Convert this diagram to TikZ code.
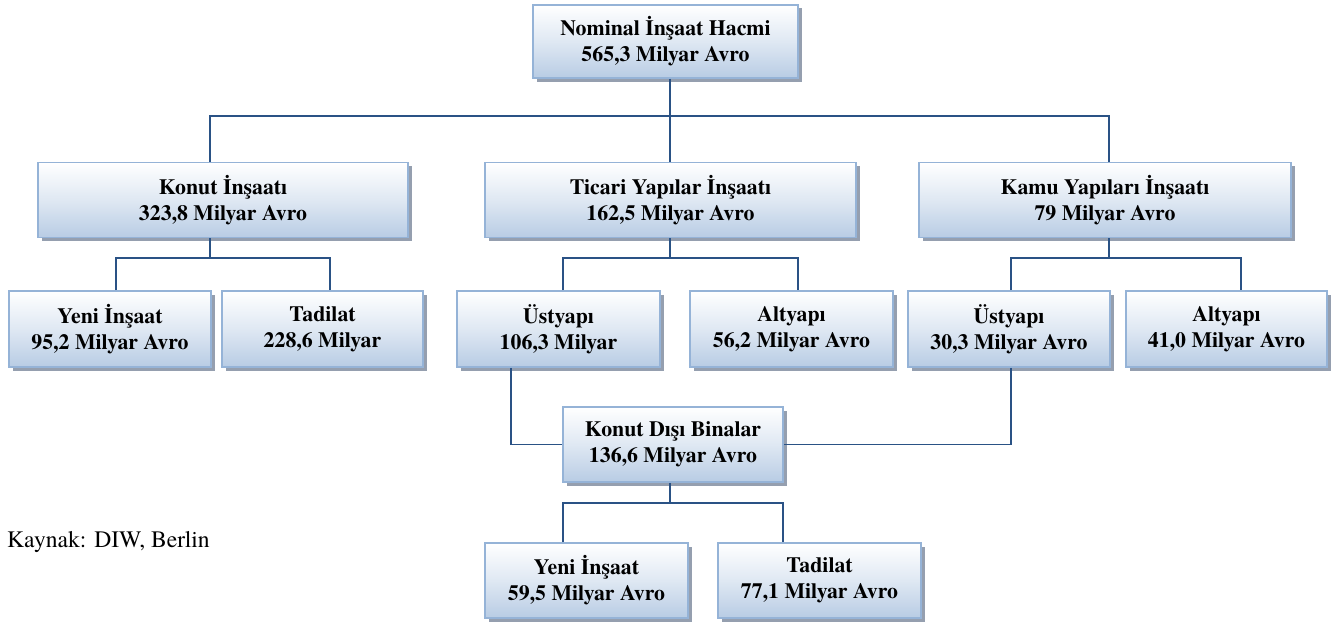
\documentclass[tikz,border=0pt]{standalone}
\usepackage{fontspec}
\setmainfont{TeX Gyre Termes}
\usetikzlibrary{shadows}
\definecolor{boxborder}{HTML}{95B3D7}
\definecolor{boxbottom}{HTML}{B8CCE4}
\definecolor{boxshadow}{HTML}{959FAF}
\definecolor{connblue}{HTML}{2A5285}
\tikzset{
  orgbox/.style={draw=boxborder, line width=1.6pt, top color=white, bottom color=boxbottom,
    middle color=boxbottom!45,
    drop shadow={shadow xshift=3.5pt, shadow yshift=-3.5pt, fill=boxshadow, opacity=1},
    align=center, inner sep=0pt, minimum height=75pt,
    font=\bfseries\fontsize{21.8}{26}\selectfont},
  conn/.style={draw=connblue, line width=1.9pt, line join=miter}
}
\begin{document}
\begin{tikzpicture}[x=1pt,y=-1pt]
\useasboundingbox (0,0) rectangle (1341,626);
\node[orgbox, minimum width=265pt, minimum height=73pt] (top) at (665.5,41.5) {Nominal İnşaat Hacmi\\565,3 Milyar Avro};
\node[orgbox, minimum width=370pt] (konut) at (223,200) {Konut İnşaatı\\323,8 Milyar Avro};
\node[orgbox, minimum width=371pt] (ticari) at (670.5,200) {Ticari Yapılar İnşaatı\\162,5 Milyar Avro};
\node[orgbox, minimum width=372pt] (kamu) at (1105,200) {Kamu Yapıları İnşaatı\\79 Milyar Avro};
\node[orgbox, minimum width=202pt, minimum height=76pt] (yeni1) at (110,329) {Yeni İnşaat\\95,2 Milyar Avro};
\node[orgbox, minimum width=201pt, minimum height=76pt] (tad1) at (322.5,329) {Tadilat\\228,6 Milyar};
\node[orgbox, minimum width=203pt, minimum height=76pt] (ust1) at (558.5,329) {Üstyapı\\106,3 Milyar};
\node[orgbox, minimum width=203pt, minimum height=76pt] (alt1) at (791.5,329) {Altyapı\\56,2 Milyar Avro};
\node[orgbox, minimum width=202pt, minimum height=76pt] (ust2) at (1009,329) {Üstyapı\\30,3 Milyar Avro};
\node[orgbox, minimum width=201pt, minimum height=76pt] (alt2) at (1226.5,329) {Altyapı\\41,0 Milyar Avro};
\node[orgbox, minimum width=220pt] (kdb) at (673,444.5) {Konut Dışı Binalar\\136,6 Milyar Avro};
\node[orgbox, minimum width=203pt] (yeni2) at (586.5,580.5) {Yeni İnşaat\\59,5 Milyar Avro};
\node[orgbox, minimum width=203pt] (tad2) at (819.5,580.5) {Tadilat\\77,1 Milyar Avro};
\node[anchor=base west, inner sep=0pt, font=\fontsize{23.6}{28}\selectfont] (kaynak) at (7,547) {Kaynak: DIW, Berlin};
% junctions
\coordinate (j0) at (670,116);
\coordinate (j1) at (210,258);
\coordinate (j2) at (670,258);
\coordinate (j3) at (1109,258);
\coordinate (j4) at (670,503);
% top level
\draw[conn] (top.south -| j0) -- (j0);
\draw[conn] (konut.north -| 210,0) |- (j0) -| (kamu.north -| 1109,0);
\draw[conn] (j0) -- (ticari.north -| j0);
% konut
\draw[conn] (konut.south -| j1) -- (j1);
\draw[conn] (yeni1.north -| 116,0) |- (j1) -| (tad1.north -| 330,0);
% ticari
\draw[conn] (ticari.south -| j2) -- (j2);
\draw[conn] (ust1.north -| 563,0) |- (j2) -| (alt1.north -| 798,0);
% kamu
\draw[conn] (kamu.south -| j3) -- (j3);
\draw[conn] (ust2.north -| 1011,0) |- (j3) -| (alt2.north -| 1241,0);
% ustyapi to konut disi
\draw[conn] (ust1.south -| 511,0) |- (kdb.west);
\draw[conn] (ust2.south -| 1011,0) |- (kdb.east);
% konut disi
\draw[conn] (kdb.south -| j4) -- (j4);
\draw[conn] (yeni2.north -| 563,0) |- (j4) -| (tad2.north -| 783,0);
\end{tikzpicture}
\end{document}
